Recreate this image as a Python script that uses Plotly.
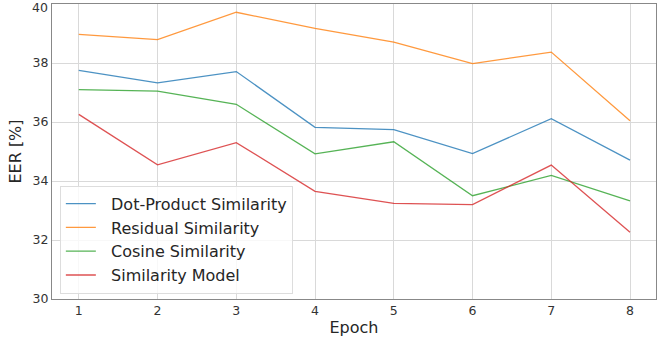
import plotly.graph_objects as go

epochs = [1, 2, 3, 4, 5, 6, 7, 8]
dot_product = [37.75, 37.33, 37.71, 35.82, 35.74, 34.93, 36.11, 34.71]
residual = [38.97, 38.79, 39.72, 39.17, 38.71, 37.98, 38.37, 36.04]
cosine = [37.10, 37.05, 36.60, 34.92, 35.33, 33.50, 34.19, 33.33]
sim_model = [36.26, 34.55, 35.30, 33.65, 33.24, 33.20, 34.54, 32.26]
y_ticks = [30, 32, 34, 36, 38, 40]

series = [
    ("Dot-Product Similarity", dot_product, "rgba(31,119,180,0.8)"),
    ("Residual Similarity", residual, "rgba(255,127,14,0.8)"),
    ("Cosine Similarity", cosine, "rgba(44,160,44,0.8)"),
    ("Similarity Model", sim_model, "rgba(214,39,40,0.8)"),
]

PAD = "\u00a0\u00a0"  # gap between legend line sample and its label

fig = go.Figure()
for name, vals, col in series:
    fig.add_trace(go.Scatter(x=epochs, y=vals, mode="lines", name=PAD + name,
                             line=dict(color=col, width=1.3)))

# top tick label (plotly drops it because it overflows the page edge)
fig.add_annotation(x=0, xref="paper", y=y_ticks[-1], yref="y", text=str(y_ticks[-1]),
                   showarrow=False, xanchor="right", yanchor="middle", xshift=-3, yshift=-3,
                   borderpad=0, font=dict(size=12.5, color="#333333"))

fig.update_layout(
    width=665, height=339,
    margin=dict(l=52, r=9, t=4, b=40),
    paper_bgcolor="white", plot_bgcolor="white",
    font=dict(family="DejaVu Sans", color="#262626"),
    legend=dict(x=0.013, y=0.018, xanchor="left", yanchor="bottom",
                bgcolor="rgba(255,255,255,0.8)", bordercolor="#dddddd", borderwidth=1,
                font=dict(size=16, color="#262626"), tracegroupgap=0,
                itemwidth=30),
    xaxis=dict(range=[0.66, 8.33], tickvals=epochs, ticktext=[str(e) for e in epochs],
               showgrid=True, gridcolor="#d9d9d9", gridwidth=1,
               showline=True, linecolor="#888888", linewidth=1, mirror=True,
               ticks="", tickfont=dict(size=12.5, color="#333333"),
               automargin=False,
               title=dict(text="Epoch", font=dict(size=16, color="#262626"), standoff=4),
               zeroline=False),
    yaxis=dict(range=[30, 40], tickvals=y_ticks,
               showgrid=True, gridcolor="#d9d9d9", gridwidth=1,
               showline=True, linecolor="#888888", linewidth=1, mirror=True,
               ticks="", tickfont=dict(size=12.5, color="#333333"),
               automargin=False,
               title=dict(text="EER [%]", font=dict(size=16, color="#262626"), standoff=6),
               zeroline=False),
)

fig.write_html("out.html", config={"displayModeBar": False},
               post_script="document.body.style.margin='0px';")
